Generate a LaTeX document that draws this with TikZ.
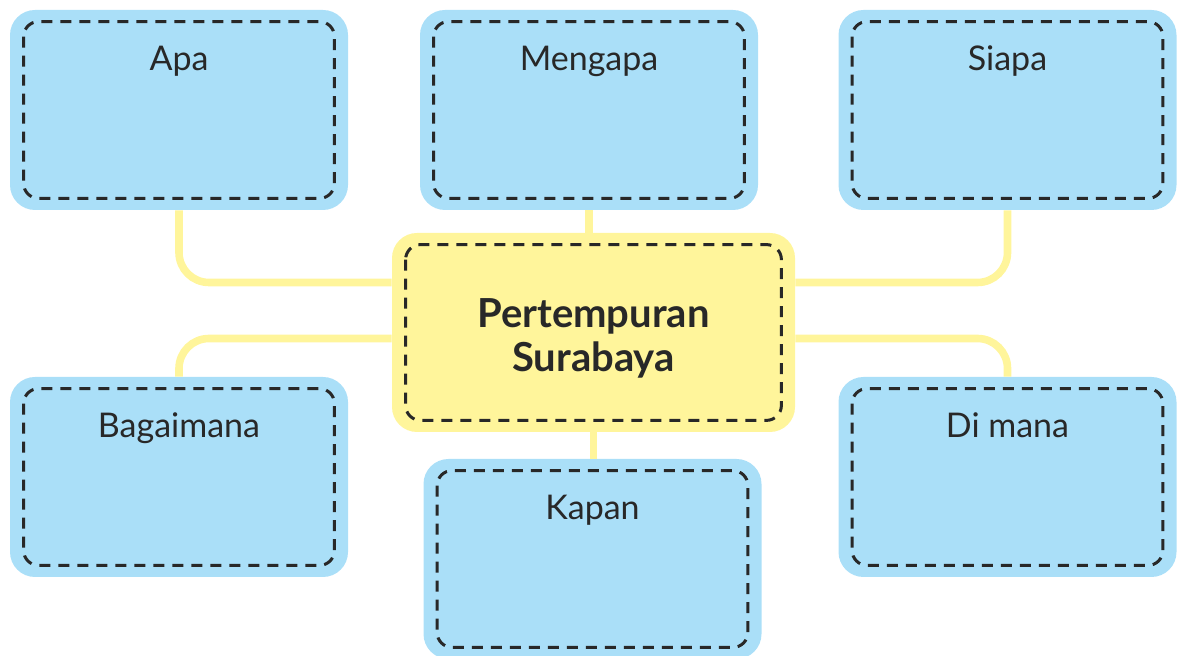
\documentclass[tikz,border=0pt]{standalone}
\usepackage{fontspec}
\setmainfont{Lato}
\definecolor{skyblue}{RGB}{170,223,248}
\definecolor{paleyellow}{RGB}{255,245,155}
\definecolor{dashgray}{RGB}{40,40,40}
\tikzset{
  qbox/.style={fill=skyblue, rounded corners=12.5pt, inner sep=0pt,
    minimum width=169pt, text height=30.5pt, text depth=69.5pt,
    font=\fontsize{17}{20}\selectfont, text=dashgray},
  mainbox/.style={fill=paleyellow, rounded corners=12.5pt, inner sep=0pt,
    minimum width=201.5pt, minimum height=99.5pt, align=center,
    font=\fontsize{20}{22}\selectfont\bfseries, text=dashgray},
  dashbox/.style={draw=dashgray, line width=1.5pt, dash pattern=on 5.5pt off 4pt,
    rounded corners=7.5pt},
  link/.style={draw=paleyellow, line width=3.8pt, rounded corners=15pt}
}
\begin{document}
\begin{tikzpicture}[x=0.5pt, y=-0.5pt]

    % canvas, same size as the picture
    \clip (0,0) rectangle (1178,656);

    % boxes
    \node [mainbox] (pusat) at (593.5,332.5) {};
    \node [qbox] (apa) at (179,110) {Apa};
    \node [qbox] (mengapa) at (589,110) {Mengapa};
    \node [qbox] (siapa) at (1007.5,110) {Siapa};
    \node [qbox] (bagaimana) at (179,477) {Bagaimana};
    \node [qbox] (dimana) at (1007.5,477) {Di mana};
    \node [qbox] (kapan) at (592.5,559) {Kapan};

    % title, a little below the middle of its box
    \node [mainbox, fill=none, minimum width=0pt, minimum height=0pt] (judul)
      at ([yshift=-3pt]pusat.center) {Pertempuran\\Surabaya};

    % dashed frames inside every box
    \foreach \n in {pusat,apa,mengapa,siapa,bagaimana,dimana,kapan}
      \draw [dashbox] ([shift={(14,12)}]\n.north west) rectangle ([shift={(-14,-12)}]\n.south east);

    % connectors
    \draw [link] (apa.south) |- ([yshift=25pt]pusat.west);
    \draw [link] (siapa.south) |- ([yshift=25pt]pusat.east);
    \draw [link] ([yshift=-3pt]pusat.west) -| (bagaimana.north);
    \draw [link] ([yshift=-3pt]pusat.east) -| (dimana.north);
    \draw [link] (mengapa.south) -- (mengapa.south |- pusat.north);
    \draw [link] (pusat.south) -- (pusat.south |- kapan.north);
\end{tikzpicture}
\end{document}
